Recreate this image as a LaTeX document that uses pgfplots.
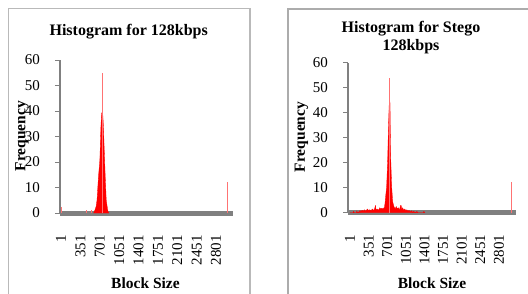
\documentclass[border=0pt]{standalone}
\usepackage{pgfplots}
\pgfplotsset{compat=1.18}
\usepackage{fontspec}
\setmainfont{Liberation Serif}
\begin{document}
\fontsize{15}{18}\selectfont
\begin{tikzpicture}[x=1pt,y=1pt]
\useasboundingbox (0,0) rectangle (528,293);
\clip (0,0) rectangle (528,293);
\draw[gray!55, line width=1.5pt] (8.5,284.5) rectangle (250,-20);
\draw[gray!65, line width=2pt] (288,284.5) rectangle (560,-20);
\pgfplotsset{
  hist/.style={
    scale only axis, axis lines=left, axis line style={-},
    x axis line style={line width=5pt, gray},
    y axis line style={line width=1.3pt, gray},
    ymin=0, ymax=60, ytick={0,10,...,60},
    xtick={1,351,701,1051,1401,1751,2101,2451,2801},
    scaled x ticks=false,
    /pgf/number format/1000 sep={},
    /pgf/number format/assume math mode=true,
    tick align=outside, major tick length=5pt,
    ytick style={gray, line width=1pt},
    xtick style={draw=none},
    yticklabel shift=10pt,
    xticklabel style={rotate=90, anchor=east},
    xticklabel shift=12pt,
    title style={font=\fontsize{16}{18}\selectfont\bfseries, align=center, anchor=center},
    xlabel style={font=\fontsize{15.5}{18}\selectfont\bfseries, anchor=center},
    ylabel style={font=\fontsize{15.5}{18}\selectfont\bfseries, anchor=center, rotate=0},
    clip=false,
  }
}
\begin{axis}[hist, at={(60pt,80pt)}, anchor=south west, width=173pt, height=153pt,
  xmin=-17, xmax=3108,
  title={Histogram for 128kbps},
  title style={at={(axis description cs:0.397,1.147)}},
  xlabel={Block Size},
  xlabel style={at={(axis description cs:0.494,-0.456)}},
  ylabel={Frequency},
  ylabel style={at={(axis description cs:-0.22,0.503)}},
]
\addplot[fill=red, draw=red, line width=0.3pt, line join=round] coordinates {
(590,0)(615,1.2)(635,2.5)(652,5.1)(678,14.2)(703,20.8)(722,33.8)(734,39.1)(745,39.5)(755,39)(768,33.8)(780,26)(800,14.2)(818,5.1)(842,1.5)(855,0.2)(865,0)
} \closedcycle;
\addplot[ycomb, draw=red!55, line width=0.7pt, mark=none] coordinates {
(1,2.5)(465,1)(555,1)(745,54.8)(3003,12.3)
};
\end{axis}
\begin{axis}[hist, at={(348pt,80.3pt)}, anchor=south west, width=168pt, height=150pt,
  xmin=-36.6, xmax=3121,
  title={Histogram for Stego\\128kbps},
  title style={at={(axis description cs:0.375,1.125)}},
  xlabel={Block Size},
  xlabel style={at={(axis description cs:0.5,-0.469)}},
  ylabel={Frequency},
  ylabel style={at={(axis description cs:-0.277,0.505)}},
]
\addplot[fill=red, draw=red, line width=0.3pt, line join=round] coordinates {
(1,0)(60,0)(70,0.6)(80,0)(120,0)(130,0.8)(140,0)(180,0.5)(190,1)(200,0.3)(230,1)(250,0.5)(270,1.2)(290,0.6)(310,1)(330,1.5)(350,0.8)(370,1.2)(400,0.8)(420,1.5)(440,1)(460,1.3)(480,3)(490,1)(510,1.5)(540,1)(560,2)(580,1.5)(600,1.8)(620,1.5)(640,2)(646,1.7)(659,3.8)(690,10.5)(709,21.1)(721,31.9)(734,41.1)(740,45)(746,45)(753,43.8)(759,32)(765,22.5)(784,10.5)(803,4.4)(828,2.4)(850,1.5)(870,2.5)(890,1.5)(910,2)(930,1)(950,2.8)(960,3)(975,1.5)(990,2)(1010,1)(1030,1.5)(1050,0.8)(1070,1.2)(1090,0.5)(1110,1)(1130,0.3)(1160,0.8)(1180,0)(1200,0.6)(1220,0)(1260,0.5)(1280,0)(1380,0)(1390,0.6)(1400,0)(1410,0)
} \closedcycle;
\addplot[ycomb, draw=red!55, line width=0.7pt, mark=none] coordinates {
(741,54)(3027,12.1)
};
\end{axis}
\end{tikzpicture}
\end{document}
